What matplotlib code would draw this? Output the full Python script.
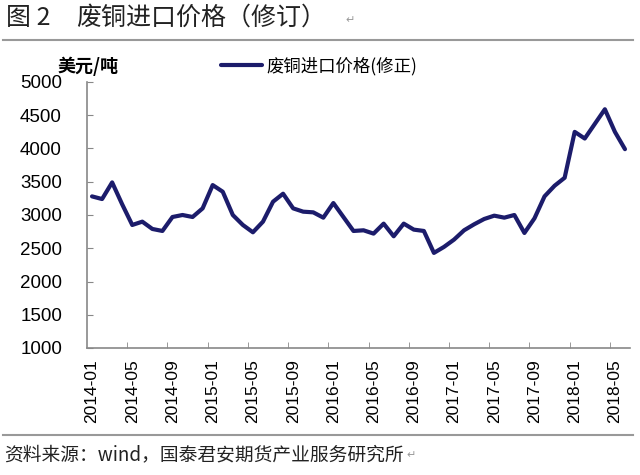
import numpy as np
import matplotlib
matplotlib.use("Agg")
from matplotlib import pyplot as plt
from matplotlib.lines import Line2D

plt.rcParams['font.family'] = ['Noto Sans CJK SC', 'DejaVu Sans']

# 废铜进口价格（修正），月度，2014-01 ~ 2018-06
meses = []
for anio in range(2014, 2019):
    for m in range(1, 13):
        meses.append("%d-%02d" % (anio, m))
meses = meses[:54]

precio = [3280, 3240, 3490, 3160, 2850, 2900, 2790, 2760, 2970, 3000,
          2970, 3100, 3450, 3350, 3000, 2850, 2740, 2900, 3200, 3320,
          3100, 3050, 3040, 2960, 3180, 2970, 2760, 2770, 2720, 2870,
          2680, 2870, 2780, 2760, 2430, 2520, 2630, 2770, 2860, 2940,
          2990, 2960, 3000, 2730, 2950, 3280, 3440, 3560, 4250, 4150,
          4370, 4590, 4250, 3990]

etiquetas = meses[::4]
yticks = [1000, 1500, 2000, 2500, 3000, 3500, 4000, 4500, 5000]

fig = plt.figure(figsize=(6.4, 4.75), dpi=100)
ax = fig.add_axes([87/640, 1-348/475, (630-87)/640, (348-82)/475])

x = np.arange(len(precio))
ax.plot(x, precio, color='#1c1c6b', linewidth=3.0, solid_joinstyle='round',
        solid_capstyle='round', label='废铜进口价格(修正)')

ax.set_xlim(-0.5, len(precio) - 0.5)
ax.set_ylim(1000, 5000)
ax.set_yticks(yticks)
ax.set_yticklabels([str(v) for v in yticks], family='Liberation Sans', fontsize=13.5)
ax.set_xticks(x[::4])
ax.set_xticklabels(etiquetas, rotation=90, family='Liberation Sans', fontsize=12.5)
ax.set_xticks(np.arange(3.5, len(precio), 4), minor=True)
ax.tick_params(axis='x', which='major', length=0, pad=8)
ax.tick_params(axis='x', which='minor', direction='in', length=4, color='#888888')
ax.tick_params(axis='y', direction='in', length=4, color='#888888', pad=18)

for s in ['top', 'right']:
    ax.spines[s].set_visible(False)
for s in ['left', 'bottom']:
    ax.spines[s].set_color('#888888')
    ax.spines[s].set_linewidth(1.2)

ax.legend(loc='center left', bbox_to_anchor=(212/640, 1-66/475),
          bbox_transform=fig.transFigure, frameon=False, fontsize=12.5,
          handlelength=2.4, handletextpad=0.25, borderpad=0)

fig.text(57/640, 1-66/475, '美元/吨', fontsize=13, fontweight='bold',
         va='center', ha='left')

# 标题与分隔线
fig.text(6/640, 1-18/475, '图 2', fontsize=18,
         va='center', ha='left', color='#222222')
fig.text(76/640, 1-18/475, '废铜进口价格（修订）', fontsize=18,
         va='center', ha='left', color='#222222')
fig.text(345/640, 1-20/475, '↵', fontsize=8, color='#999999',
         va='center', ha='left', family=['DejaVu Sans'])
fig.add_artist(Line2D([3/640, 633/640], [1-40/475, 1-40/475],
                      color='#999999', linewidth=1.5, transform=fig.transFigure))
fig.add_artist(Line2D([3/640, 633/640], [1-435/475, 1-435/475],
                      color='#999999', linewidth=1.5, transform=fig.transFigure))
fig.text(4/640, 1-455/475, '资料来源：wind，国泰君安期货产业服务研究所', fontsize=13.5,
         va='center', ha='left', color='#222222')
fig.text(406/640, 1-455/475, '↵', fontsize=8, color='#999999',
         va='center', ha='left', family=['DejaVu Sans'])

fig.savefig('out.png', dpi=100, facecolor='white')
